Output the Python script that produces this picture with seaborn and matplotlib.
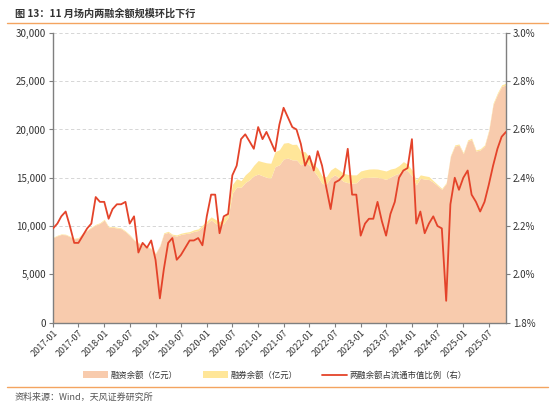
import numpy as np
import pandas as pd
import seaborn as sns
import matplotlib.pyplot as plt
import matplotlib.dates as mdates
from matplotlib.patches import Patch
from matplotlib.lines import Line2D
from matplotlib.ticker import FuncFormatter, MultipleLocator

# monthly, 2017-01 .. 2025-11
months = pd.date_range('2017-01-01', periods=107, freq='MS')

# two-margin total balance (top of yellow band), 亿元
total_balance = [
    8840, 9050, 9180, 9150, 8950, 8730, 8800, 9300, 9600, 9900, 10180, 10350,
    10700, 9950, 9950, 9870, 9800, 9490, 9100, 8600, 8300, 8050, 7900, 7700,
    7200, 8000, 9300, 9450, 9150, 9080, 9250, 9350, 9420, 9600, 9700, 10110,
    10500, 10950, 10700, 10450, 10800, 11500, 14300, 14900, 14700, 15300, 15700, 16300,
    16780, 16650, 16550, 16500, 17700, 17900, 18580, 18650, 18450, 18470, 17710, 17700,
    17100, 16400, 16000, 15200, 15100, 15800, 16100, 15800, 15470, 15350, 15300, 15300,
    15700, 15820, 15900, 15920, 15900, 15800, 15700, 15900, 16000, 16260, 16670, 16400,
    15800, 14780, 15300, 15200, 15120, 14700, 14300, 13900, 14500, 17300, 18400, 18500,
    17610, 18920, 19100, 17890, 18000, 18400, 19960, 22730, 23800, 24630, 24800,
]

# securities lending balance (thickness of yellow band), 亿元
lending_balance = [
    60, 60, 60, 60, 60, 60, 70, 70, 70, 70, 80, 80,
    90, 80, 80, 80, 80, 80, 80, 70, 70, 70, 70, 70,
    70, 80, 100, 110, 110, 120, 130, 140, 150, 160, 170, 190,
    250, 320, 400, 450, 520, 600, 900, 850, 700, 800, 900, 1100,
    1400, 1450, 1500, 1550, 1550, 1560, 1630, 1620, 1600, 1620, 1380, 1100,
    800, 690, 860, 800, 760, 800, 800, 820, 860, 860, 860, 820,
    760, 800, 860, 860, 860, 860, 860, 830, 690, 800, 690, 690,
    600, 520, 350, 345, 300, 170, 130, 100, 100, 110, 120, 120,
    120, 130, 130, 130, 130, 130, 140, 150, 160, 170, 180,
]

financing_balance = [t - l for t, l in zip(total_balance, lending_balance)]

# two-margin balance / float market cap, %
ratio_pct = [
    2.19, 2.21, 2.24, 2.26, 2.20, 2.13, 2.13, 2.16, 2.19, 2.21, 2.32, 2.30,
    2.30, 2.23, 2.27, 2.29, 2.29, 2.30, 2.21, 2.24, 2.09, 2.13, 2.11, 2.14,
    2.06, 1.90, 2.02, 2.13, 2.15, 2.06, 2.08, 2.11, 2.14, 2.14, 2.15, 2.12,
    2.24, 2.33, 2.33, 2.17, 2.24, 2.25, 2.41, 2.45, 2.56, 2.58, 2.55, 2.52,
    2.61, 2.56, 2.59, 2.55, 2.51, 2.62, 2.69, 2.65, 2.61, 2.60, 2.54, 2.45,
    2.49, 2.43, 2.51, 2.45, 2.36, 2.27, 2.38, 2.39, 2.41, 2.52, 2.33, 2.33,
    2.16, 2.21, 2.23, 2.23, 2.30, 2.22, 2.16, 2.25, 2.30, 2.40, 2.43, 2.44,
    2.56, 2.21, 2.26, 2.17, 2.21, 2.24, 2.20, 2.19, 1.89, 2.29, 2.40, 2.35,
    2.40, 2.43, 2.33, 2.30, 2.26, 2.30, 2.37, 2.45, 2.52, 2.57, 2.59,
]

df = pd.DataFrame({'month': months, 'financing': financing_balance,
                   'total': total_balance, 'ratio': ratio_pct})

sns.set_theme(style='white')
plt.rcParams['font.family'] = ['Noto Sans CJK SC', 'DejaVu Sans']
plt.rcParams['axes.unicode_minus'] = False

c_fin = '#F8CBAD'
c_lend = '#FFE699'
c_line = '#E4432A'
c_axis = '#7F7F7F'
c_text = '#333333'

fig = plt.figure(figsize=(5.5, 4.07), dpi=100)
ax = fig.add_axes([0.0964, 0.2076, 0.8236, 0.7114])

ax.fill_between(df['month'], 0, df['financing'], color=c_fin, lw=0, zorder=2)
ax.fill_between(df['month'], df['financing'], df['total'], color=c_lend, lw=0, zorder=2)
ax.set_ylim(0, 30000)
ax.yaxis.set_major_locator(MultipleLocator(5000))
ax.yaxis.set_major_formatter(FuncFormatter(lambda v, p: f'{int(v):,}'))
ax.grid(axis='y', color='#D0D0D0', ls=(0, (4, 3)), lw=0.6)
ax.set_axisbelow(True)
ax.set_xlim(months[0], months[-1])

ax2 = ax.twinx()
sns.lineplot(data=df, x='month', y='ratio', ax=ax2, color=c_line, lw=1.3, zorder=5)
ax2.set_ylim(1.8, 3.0)
ax2.yaxis.set_major_locator(MultipleLocator(0.2))
ax2.yaxis.set_major_formatter(FuncFormatter(lambda v, p: f'{v:.1f}%'))
ax2.set_xlim(months[0], months[-1])

tick_dates = pd.date_range('2017-01-01', '2025-07-01', freq='6MS')
for a in (ax, ax2):
    a.set_xlabel('')
    a.set_ylabel('')
    a.set_xticks(tick_dates)
    for s in a.spines.values():
        s.set_visible(False)
ax.xaxis.set_major_formatter(mdates.DateFormatter('%Y-%m'))
ax.tick_params(axis='x', rotation=45, labelsize=6.5, colors=c_text, length=3,
               color=c_axis, width=0.8, pad=1)
for lbl in ax.get_xticklabels():
    lbl.set_ha('right')
    lbl.set_rotation_mode('anchor')
ax.tick_params(axis='y', labelsize=7, colors=c_text, length=3, color=c_axis, width=0.8, pad=2)
ax.tick_params(axis='both', which='both', bottom=True, left=True, direction='out')
ax2.tick_params(axis='y', labelsize=7, colors=c_text, length=3, color=c_axis, width=0.8,
                right=True, pad=2)
ax2.tick_params(axis='x', bottom=False, labelbottom=False)
ax.spines['left'].set_visible(True)
ax.spines['bottom'].set_visible(True)
ax2.spines['right'].set_visible(True)
for s in (ax.spines['left'], ax.spines['bottom'], ax2.spines['right']):
    s.set_color(c_axis)
    s.set_linewidth(1.0)

handles = [Patch(facecolor=c_fin, edgecolor='none'),
           Patch(facecolor=c_lend, edgecolor='none'),
           Line2D([0], [0], color=c_line, lw=1.3)]
labels = ['融资余额（亿元）', '融券余额（亿元）', '两融余额占流通市值比例（右）']
fig.legend(handles, labels, loc='center', bbox_to_anchor=(0.5, 0.078), ncol=3,
           frameon=False, fontsize=6, handlelength=3.0, handleheight=0.9,
           columnspacing=3.0, handletextpad=0.3, labelcolor=c_text)

fig.text(0.027, 0.966, '图 13：11 月场内两融余额规模环比下行', fontsize=7.3,
         fontweight='bold', color=c_text, va='center', ha='left')
fig.add_artist(Line2D([0.013, 0.997], [0.944, 0.944], color='#F4A460', lw=1.0))
fig.add_artist(Line2D([0.013, 0.997], [0.049, 0.049], color='#F4A460', lw=1.0))
fig.text(0.027, 0.025, '资料来源：Wind，天风证券研究所', fontsize=6.5,
         color='#555555', va='center', ha='left')

fig.savefig('out.png', dpi=100)
